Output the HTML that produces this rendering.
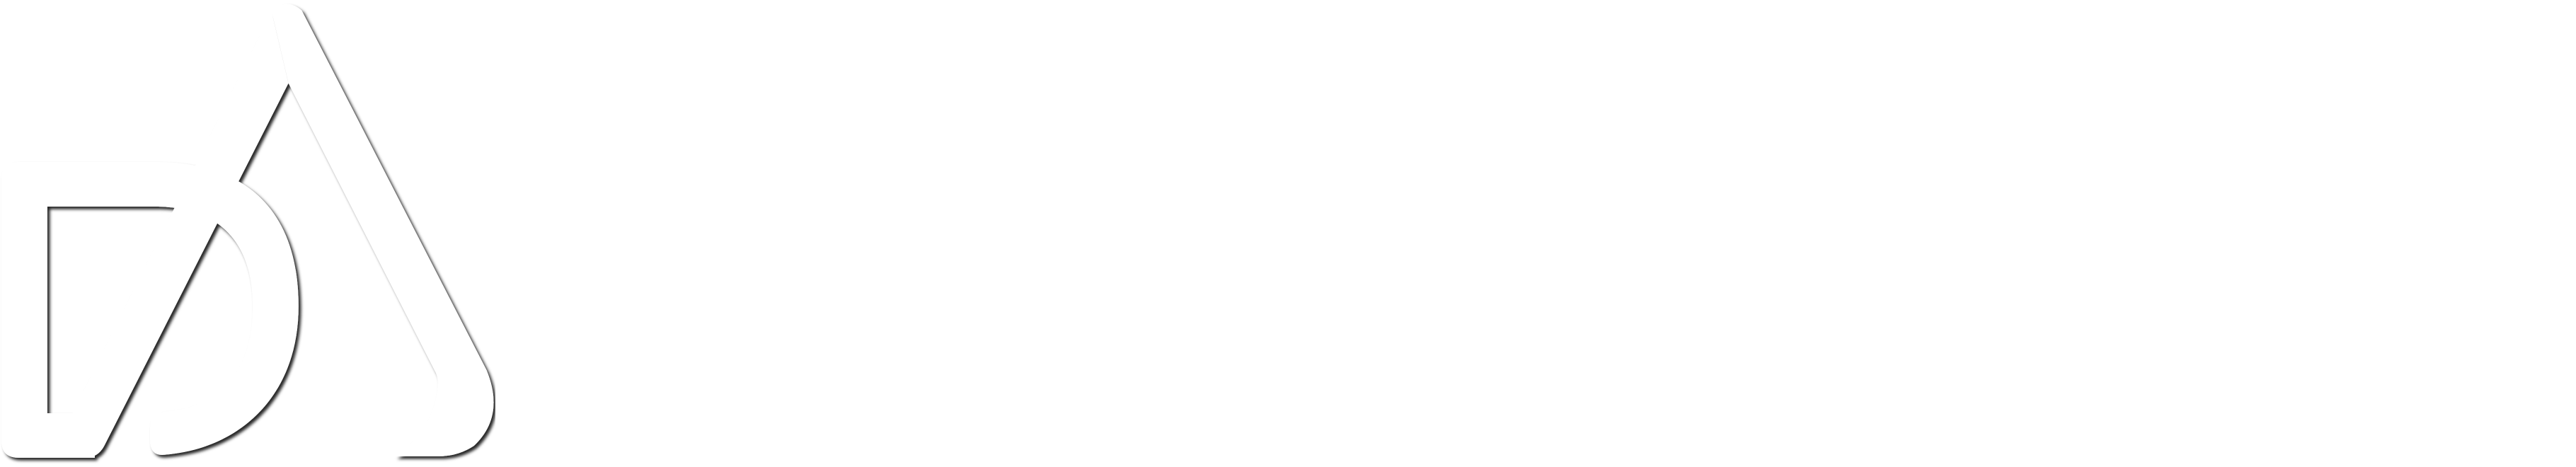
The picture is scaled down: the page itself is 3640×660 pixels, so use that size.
<!DOCTYPE html>
<html><head><meta charset="utf-8"><style>
html,body{margin:0;padding:0;background:#fff;}
body{width:3640px;height:660px;overflow:hidden;position:relative;}
svg{position:absolute;left:0;top:0;}
</style></head><body>
<svg width="700" height="660" viewBox="0 0 1568 1571" preserveAspectRatio="none">
<defs><filter id="sh" x="-10%" y="-10%" width="130%" height="130%"><feDropShadow dx="8" dy="9" stdDeviation="5" flood-color="#000" flood-opacity="0.85"/></filter></defs>
<g filter="url(#sh)" fill="#fff">
<path d="M60 545 H490 C790 545 945 720 945 1030 C945 1330 760 1510 520 1530 Q475 1535 475 1480 V1440 Q475 1390 520 1385 C700 1370 800 1250 800 1030 C800 800 680 695 490 695 H150 V1390 H300 V1540 H60 Q5 1540 5 1485 V600 Q5 545 60 545 Z"/>
<path d="M860 40 L230 1390 L240 1540 H270 Q310 1540 330 1500 L913 280 Z"/>
<path d="M860 40 Q905 -10 955 35 L1540 1245 Q1600 1400 1500 1500 Q1450 1535 1390 1535 H1250 Q1370 1450 1385 1310 Q1390 1270 1375 1245 L913 280 Z"/>
</g>
</svg>
</body></html>
